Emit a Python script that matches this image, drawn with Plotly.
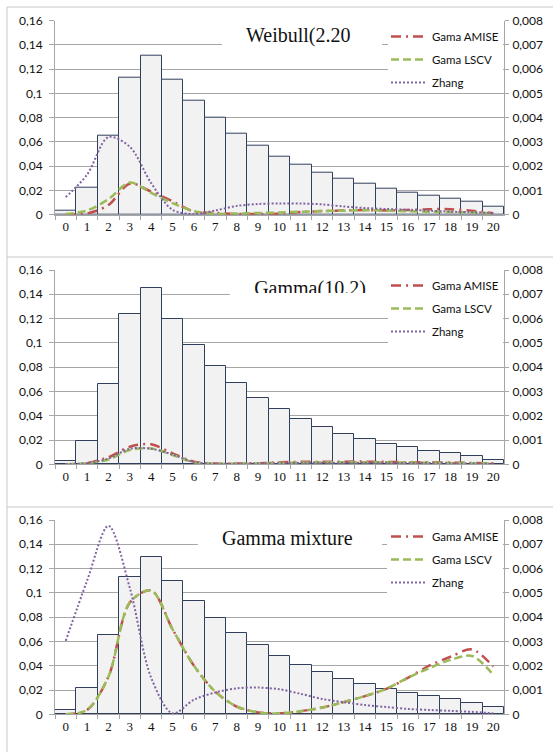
import plotly.graph_objects as go

W, H = 553, 752

categories = ["0", "1", "2", "3", "4", "5", "6", "7", "8", "9", "10",
              "11", "12", "13", "14", "15", "16", "17", "18", "19", "20"]

# ---- Panel 1: Weibull ----
weibull_title = "Weibull(2.20"
weibull_hist = [0.003, 0.022, 0.065, 0.113, 0.131, 0.111, 0.094, 0.080, 0.067, 0.057, 0.048,
                0.041, 0.035, 0.0296, 0.0252, 0.0214, 0.0184, 0.0154, 0.0129, 0.0104, 0.0066]
weibull_amise = [0.0, 0.00005, 0.0004, 0.00128, 0.00095, 0.00055, 0.000125, 0.000075, 0.00003, 0.00003, 0.00004,
                 0.00011, 0.00015, 0.000175, 0.00019, 0.000175, 0.00019, 0.000225, 0.000225, 0.000165, 0.000065]
weibull_lscv = [0.000025, 0.000175, 0.00064, 0.001325, 0.0009, 0.000475, 0.00015, 0.000035, 0.00005, 0.00007, 0.00009,
                0.000125, 0.00015, 0.000165, 0.000185, 0.00017, 0.00014, 0.000125, 0.00011, 0.00009, 0.00005]
weibull_zhang = [0.000725, 0.00165, 0.0032, 0.0028, 0.0013, 0.0002, 0.00003, 0.000175, 0.00036, 0.00044, 0.000465,
                 0.00046, 0.000425, 0.00034, 0.000275, 0.000235, 0.000205, 0.000165, 0.000125, 0.0001, 0.00007]

# ---- Panel 2: Gamma(10,2) ----
gamma_title = "Gamma(10.2)"
gamma_hist = [0.0027, 0.0192, 0.0658, 0.1235, 0.1449, 0.1193, 0.0982, 0.0807, 0.0667, 0.0546, 0.0453,
              0.0373, 0.0305, 0.025, 0.0206, 0.0167, 0.014, 0.0112, 0.009, 0.0066, 0.0033]
gamma_amise = [0.0, 0.000055, 0.00029, 0.000725, 0.000825, 0.00045, 0.00011, 0.00003, 0.00003, 0.000045, 0.00008,
               0.0001, 0.0001, 0.00011, 0.00011, 0.0001, 0.000085, 0.000085, 0.00007, 0.000055, 0.00004]
gamma_lscv = [0.0, 0.00004, 0.0002, 0.00059, 0.00065, 0.000385, 0.00008, 0.000025, 0.00003, 0.00004, 0.00006,
              0.000075, 0.00008, 0.000085, 0.000085, 0.00008, 0.000075, 0.000065, 0.000055, 0.000045, 0.00003]
gamma_zhang = [0.000015, 0.00005, 0.00024, 0.00064, 0.00064, 0.0004, 0.00009, 0.00002, 0.00002, 0.000035, 0.00005,
               0.00006, 0.000065, 0.000065, 0.000065, 0.00006, 0.000055, 0.00005, 0.00004, 0.00003, 0.00002]

# ---- Panel 3: Gamma mixture ----
mixture_title = "Gamma mixture"
mixture_hist = [0.0033, 0.0214, 0.0653, 0.1128, 0.1295, 0.110, 0.093, 0.0793, 0.067, 0.0568, 0.0477,
                0.041, 0.0346, 0.029, 0.0247, 0.0209, 0.0178, 0.0151, 0.0126, 0.0096, 0.0063]
mixture_amise = [0.0, 0.00018, 0.00155, 0.0046, 0.0051, 0.0035, 0.002, 0.00093, 0.00032, 0.00008, 0.00004,
                 0.00013, 0.00028, 0.0005, 0.00075, 0.00105, 0.0015, 0.002, 0.00237, 0.00267, 0.00196]
mixture_lscv = [0.0, 0.00018, 0.00155, 0.0046, 0.0051, 0.0035, 0.002, 0.00093, 0.00032, 0.00008, 0.00004,
                0.00013, 0.00028, 0.0005, 0.00075, 0.00105, 0.0015, 0.0019, 0.00224, 0.0024, 0.00162]
mixture_zhang = [0.00302, 0.0055, 0.00776, 0.0052, 0.0015, 0.00004, 0.0006, 0.0009, 0.00107, 0.0011, 0.00103,
                 0.00084, 0.00063, 0.0005, 0.00038, 0.0003, 0.00022, 0.00018, 0.00014, 0.0001, 0.00004]

series_names = ["Gama AMISE", "Gama LSCV", "Zhang"]

panels = [
    dict(title=weibull_title, hist=weibull_hist, lines=[weibull_amise, weibull_lscv, weibull_zhang],
         top=20.7, bottom=214.7, tbox=(222, 382, 15, 55), tx=298, ty=35,
         lbox=(388, 503, 24, 93), legtop=22, clip=None),
    dict(title=gamma_title, hist=gamma_hist, lines=[gamma_amise, gamma_lscv, gamma_zhang],
         top=270.0, bottom=464.3, tbox=(230, 388, 263, 300), tx=310, ty=None,
         lbox=(388, 503, 273, 343), legtop=271, clip=(276, 16)),
    dict(title=mixture_title, hist=mixture_hist, lines=[mixture_amise, mixture_lscv, mixture_zhang],
         top=520.0, bottom=714.3, tbox=(198, 382, 512, 560), tx=287, ty=538,
         lbox=(387, 503, 524, 594), legtop=522, clip=None),
]

line_styles = [
    dict(color="#c0504d", width=2.5, dash="10px,5px,2px,5px"),
    dict(color="#9bbb59", width=2.5, dash="8px,4px"),
    dict(color="#8064a2", width=2, dash="2px,2px"),
]

GRID = "#a6a6a6"
SANS = "Lato"
SERIF = "Liberation Serif"

fig = go.Figure()
layout = dict(
    template="none",
    width=W, height=H, autosize=False, margin=dict(l=0, r=0, t=0, b=0, autoexpand=False),
    paper_bgcolor="white", plot_bgcolor="white",
    separators=", ", bargap=0, showlegend=True,
    annotations=[], shapes=[],
)

PX0, PX1 = 55.0, 504.0
x0, x1 = PX0 / W, PX1 / W

for i, p in enumerate(panels):
    n = i + 1
    xs = "" if n == 1 else str(n)
    yl = "" if n == 1 else str(n)
    yr = str(n + 3)
    dom = [1 - p["bottom"] / H, 1 - p["top"] / H]
    layout["xaxis" + xs] = dict(
        domain=[x0, x1], anchor="y" + yl, type="category", tickangle=0, automargin=False,
        tickson="boundaries", ticks="outside", ticklen=4, tickcolor=GRID,
        showline=True, linecolor=GRID, linewidth=1, showgrid=False, zeroline=False,
        tickfont=dict(family=SERIF, size=13, color="#111"),
    )
    layout["yaxis" + yl] = dict(
        domain=dom, anchor="x" + xs, range=[0, 0.16], dtick=0.02, automargin=False,
        showgrid=True, gridcolor=GRID, gridwidth=1, zeroline=False,
        showline=True, linecolor=GRID, ticks="outside", ticklen=5, tickcolor=GRID,
        tickfont=dict(family=SANS, size=12, color="#111"), ticklabelstandoff=4,
    )
    layout["yaxis" + yr] = dict(
        overlaying="y" + yl, anchor="x" + xs, side="right", range=[0, 0.008], dtick=0.001,
        automargin=False, showgrid=False, zeroline=False, showline=True, linecolor=GRID,
        ticks="outside", ticklen=4, tickcolor=GRID,
        tickfont=dict(family=SANS, size=12, color="#111"), ticklabelstandoff=1,
    )
    leg = "legend" + ("" if n == 1 else str(n))
    layout[leg] = dict(
        x=386 / W, xanchor="left", y=1 - p["legtop"] / H, yanchor="top",
        bgcolor="rgba(0,0,0,0)", borderwidth=0, font=dict(family=SANS, size=11.5, color="#111"),
        traceorder="grouped", tracegroupgap=4, itemwidth=36,
    )

    fig.add_trace(go.Bar(
        x=categories, y=p["hist"], xaxis="x" + xs, yaxis="y" + yl,
        marker=dict(color="#f2f2f2", line=dict(color="#2f3f5c", width=1)),
        showlegend=False,
    ))
    for name, vals, st in zip(series_names, p["lines"], line_styles):
        fig.add_trace(go.Scatter(
            x=categories, y=vals, xaxis="x" + xs, yaxis="y" + yr, mode="lines",
            name=name, legend=leg, legendgroup=f"{n}{name}",
            line=dict(color=st["color"], width=st["width"], dash=st["dash"],
                      shape="spline", smoothing=0.9),
        ))

    # white boxes (title area and legend area) hiding the gridlines
    for (bx0, bx1, by0, by1) in (p["tbox"], p["lbox"]):
        layout["shapes"].append(dict(
            type="rect", xref="paper", yref="paper", layer="above",
            x0=bx0 / W, x1=bx1 / W, y0=1 - by1 / H, y1=1 - by0 / H,
            fillcolor="white", line=dict(width=0),
        ))

    bx0, bx1, by0, by1 = p["tbox"]
    if p["clip"] is None:
        layout["annotations"].append(dict(
            xref="paper", yref="paper", x=p["tx"] / W, y=1 - p["ty"] / H,
            xanchor="center", yanchor="middle", showarrow=False,
            text=p["title"], font=dict(family=SERIF, size=20, color="#111"),
        ))
    else:
        ctop, ch = p["clip"]
        layout["annotations"].append(dict(
            xref="paper", yref="paper", x=p["tx"] / W, y=1 - ctop / H,
            xanchor="center", yanchor="top", showarrow=False,
            text=p["title"], font=dict(family=SERIF, size=20, color="#111"),
            width=bx1 - bx0, height=ch, valign="top", borderpad=0,
        ))

# Frame lines
FRAME = "#c8c8c8"
layout["shapes"].append(dict(type="line", xref="paper", yref="paper",
                             x0=7 / W, x1=7 / W, y0=0, y1=1 - 7 / H,
                             line=dict(color=FRAME, width=1)))
for yy in [7, 257, 507]:
    layout["shapes"].append(dict(type="line", xref="paper", yref="paper",
                                 x0=7 / W, x1=1, y0=1 - yy / H, y1=1 - yy / H,
                                 line=dict(color=FRAME, width=1)))

fig.update_layout(**layout)
fig.write_html("out.html", config={"displayModeBar": False},
               post_script="document.body.style.margin='0';document.body.style.padding='0';")
